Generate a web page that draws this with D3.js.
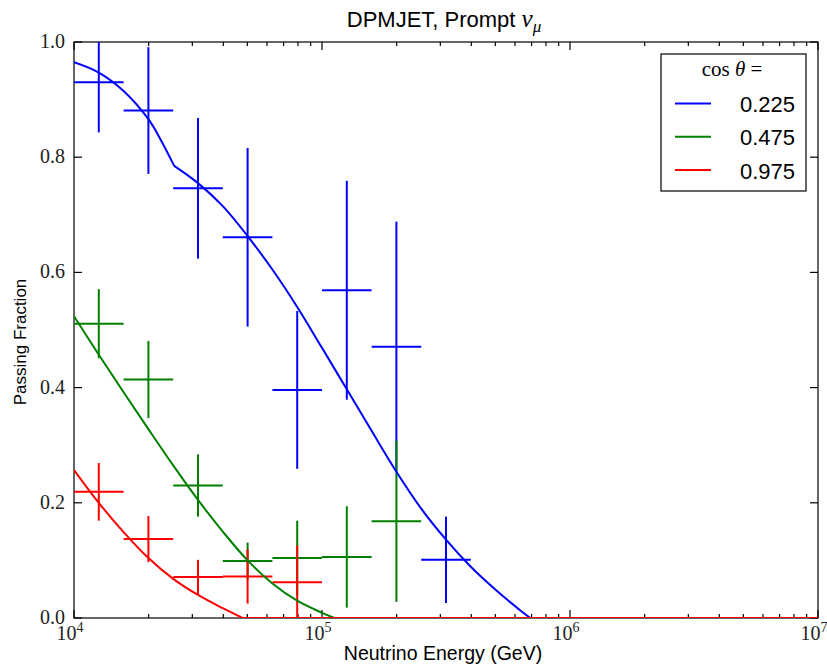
<!DOCTYPE html>
<html>
<head>
<meta charset="utf-8">
<script src="https://cdn.jsdelivr.net/npm/d3@7"></script>
<style>
  body { margin: 0; background: #fff; }
  svg { display: block; }
</style>
</head>
<body>
<svg id="chart" width="827" height="668"></svg>
<script>
// ---------- data ----------
const binCenters = [12589, 19953, 31623, 50119, 79433, 125893, 199526, 316228];
const binLow     = [10000, 15849, 25119, 39811, 63096, 100000, 158489, 251189];
const binHigh    = [15849, 25119, 39811, 63096, 100000, 158489, 251189, 398107];

const seriesNames = ["0.225", "0.475", "0.975"];
const seriesColors = ["#0000ff", "#008000", "#ff0000"];

const blueValues = [0.930, 0.881, 0.746, 0.661, 0.396, 0.569, 0.471, 0.101];
const blueErrors = [0.087, 0.110, 0.122, 0.155, 0.137, 0.190, 0.217, 0.075];
const greenValues = [0.511, 0.414, 0.230, 0.099, 0.104, 0.106, 0.168];
const greenErrors = [0.060, 0.067, 0.054, 0.032, 0.065, 0.088, 0.140];
const redValues = [0.219, 0.137, 0.071, 0.072, 0.062];
const redErrors = [0.050, 0.040, 0.030, 0.047, 0.064];

// model curves; the blue one has a kink at index blueKink
const blueCurveE = [10000, 12589, 15849, 19953, 22387, 25351, 31623, 39811, 50119, 63096, 79433, 100000, 125893, 158489, 199526, 251189, 316228, 398107, 501187, 630957, 691831, 10000000];
const blueCurveV = [0.965, 0.947, 0.915, 0.866, 0.830, 0.785, 0.755, 0.715, 0.663, 0.605, 0.540, 0.469, 0.397, 0.325, 0.254, 0.190, 0.136, 0.089, 0.049, 0.013, 0.0, 0.0];
const blueKink = 5;
const greenCurveE = [10000, 12589, 15849, 19953, 25119, 31623, 39811, 50119, 63096, 79433, 100000, 112202, 10000000];
const greenCurveV = [0.524, 0.457, 0.392, 0.328, 0.265, 0.205, 0.150, 0.100, 0.060, 0.030, 0.009, 0.0, 0.0];
const redCurveE = [10000, 12589, 15849, 19953, 25119, 31623, 39811, 47863, 10000000];
const redCurveV = [0.257, 0.200, 0.149, 0.104, 0.068, 0.040, 0.017, 0.0, 0.0];

const yTicks = [0.0, 0.2, 0.4, 0.6, 0.8, 1.0];
const yTickLabels = ["0.0", "0.2", "0.4", "0.6", "0.8", "1.0"];
const xMajorTicks = [1e4, 1e5, 1e6, 1e7];
const xTickExponents = ["4", "5", "6", "7"];

const titleText = "DPMJET, Prompt ";
const xLabelText = "Neutrino Energy (GeV)";
const yLabelText = "Passing Fraction";

// ---------- layout ----------
const L = 74, R = 818, T = 42, B = 618;
const svg = d3.select("#chart");
const x = d3.scaleLog().domain([1e4, 1e7]).range([L, R]);
const y = d3.scaleLinear().domain([0, 1]).range([B, T]);

svg.append("defs").append("clipPath").attr("id", "clip")
  .append("rect").attr("x", L).attr("y", T).attr("width", R - L).attr("height", B - T);

const serif = "'Liberation Serif', 'DejaVu Serif', serif";
const sans = "'Liberation Sans', Arial, sans-serif";

// ---------- axes frame and ticks ----------
const axG = svg.append("g").attr("stroke", "#000");
axG.append("rect").attr("x", L).attr("y", T).attr("width", R - L).attr("height", B - T)
  .attr("fill", "none").attr("stroke-width", 1.2);

const minorX = x.ticks().filter(t => !xMajorTicks.includes(t));
xMajorTicks.forEach(t => {
  axG.append("line").attr("x1", x(t)).attr("x2", x(t)).attr("y1", B).attr("y2", B - 8).attr("stroke-width", 1.2);
  axG.append("line").attr("x1", x(t)).attr("x2", x(t)).attr("y1", T).attr("y2", T + 8).attr("stroke-width", 1.2);
});
minorX.forEach(t => {
  axG.append("line").attr("x1", x(t)).attr("x2", x(t)).attr("y1", B).attr("y2", B - 4).attr("stroke-width", 1.2);
  axG.append("line").attr("x1", x(t)).attr("x2", x(t)).attr("y1", T).attr("y2", T + 4).attr("stroke-width", 1.2);
});
yTicks.forEach(t => {
  axG.append("line").attr("x1", L).attr("x2", L + 8).attr("y1", y(t)).attr("y2", y(t)).attr("stroke-width", 1.2);
  axG.append("line").attr("x1", R).attr("x2", R - 8).attr("y1", y(t)).attr("y2", y(t)).attr("stroke-width", 1.2);
});

// ---------- data marks ----------
const plot = svg.append("g").attr("clip-path", "url(#clip)");

const series = [
  {vals: blueValues, errs: blueErrors, cE: blueCurveE, cV: blueCurveV, kinks: [blueKink]},
  {vals: greenValues, errs: greenErrors, cE: greenCurveE, cV: greenCurveV, kinks: []},
  {vals: redValues, errs: redErrors, cE: redCurveE, cV: redCurveV, kinks: []}
];

// error bars first, then curves
series.forEach((s, si) => {
  const g = plot.append("g").attr("stroke", seriesColors[si]).attr("stroke-width", 2).attr("fill", "none");
  s.vals.forEach((v, i) => {
    g.append("line")
      .attr("x1", x(binLow[i])).attr("x2", x(binHigh[i]))
      .attr("y1", y(v)).attr("y2", y(v));
    g.append("line")
      .attr("x1", x(binCenters[i])).attr("x2", x(binCenters[i]))
      .attr("y1", y(v - s.errs[i])).attr("y2", y(v + s.errs[i]));
  });
});

const smooth = d3.line().curve(d3.curveCatmullRom.alpha(0.5));
const straight = d3.line();
series.forEach((s, si) => {
  const pts = s.cE.map((e, i) => [x(e), y(s.cV[i])]);
  const zeroIdx = s.cV.indexOf(0);
  const breaks = [0, ...s.kinks, zeroIdx];
  let d = "";
  for (let k = 0; k < breaks.length - 1; k++) {
    d += smooth(pts.slice(breaks[k], breaks[k + 1] + 1));
  }
  d += straight(pts.slice(zeroIdx));
  plot.append("path").attr("d", d)
    .attr("fill", "none").attr("stroke", seriesColors[si]).attr("stroke-width", 2)
    .attr("stroke-linejoin", "round");
});

// ---------- tick labels ----------
yTicks.forEach((t, i) => {
  svg.append("text").attr("x", L - 9).attr("y", y(t) + 6)
    .attr("text-anchor", "end").attr("font-family", serif).attr("font-size", 20)
    .attr("fill", "#222").text(yTickLabels[i]);
});
xMajorTicks.forEach((t, i) => {
  const tx = svg.append("text").attr("x", x(t) - 4).attr("y", 640)
    .attr("text-anchor", "middle").attr("font-family", serif).attr("font-size", 20).attr("fill", "#222");
  tx.append("tspan").text("10");
  tx.append("tspan").attr("font-size", 14).attr("dy", -8).text(xTickExponents[i]);
});

// title
const title = svg.append("text").attr("x", 444).attr("y", 27).attr("text-anchor", "middle")
  .attr("font-family", sans).attr("font-size", 22).attr("fill", "#000");
title.append("tspan").text(titleText);
title.append("tspan").attr("font-family", serif).attr("font-style", "italic").attr("font-size", 25).text("ν");
title.append("tspan").attr("font-family", serif).attr("font-style", "italic").attr("font-size", 17).attr("dy", 5).text("μ");

// axis labels
svg.append("text").attr("x", 443).attr("y", 660).attr("text-anchor", "middle")
  .attr("font-family", sans).attr("font-size", 19.5).attr("fill", "#000").text(xLabelText);
svg.append("text").attr("transform", `translate(26, 342) rotate(-90)`)
  .attr("text-anchor", "middle").attr("font-family", sans).attr("font-size", 17).attr("fill", "#000").text(yLabelText);

// ---------- legend ----------
const lg = svg.append("g");
lg.append("rect").attr("x", 661).attr("y", 54).attr("width", 145).attr("height", 137)
  .attr("fill", "#fff").attr("stroke", "#000").attr("stroke-width", 1.2);
const lt = lg.append("text").attr("x", 732).attr("y", 76).attr("text-anchor", "middle")
  .attr("font-family", serif).attr("font-size", 21).attr("fill", "#000");
lt.append("tspan").text("cos ");
lt.append("tspan").attr("font-style", "italic").text("θ");
lt.append("tspan").text(" =");
seriesNames.forEach((name, i) => {
  const yy = 103.5 + i * 33.3;
  lg.append("line").attr("x1", 675).attr("x2", 711).attr("y1", yy).attr("y2", yy)
    .attr("stroke", seriesColors[i]).attr("stroke-width", 2);
  lg.append("text").attr("x", 795).attr("y", yy + 8.5).attr("text-anchor", "end")
    .attr("font-family", sans).attr("font-size", 22).attr("fill", "#000").text(name);
});
</script>
</body>
</html>
